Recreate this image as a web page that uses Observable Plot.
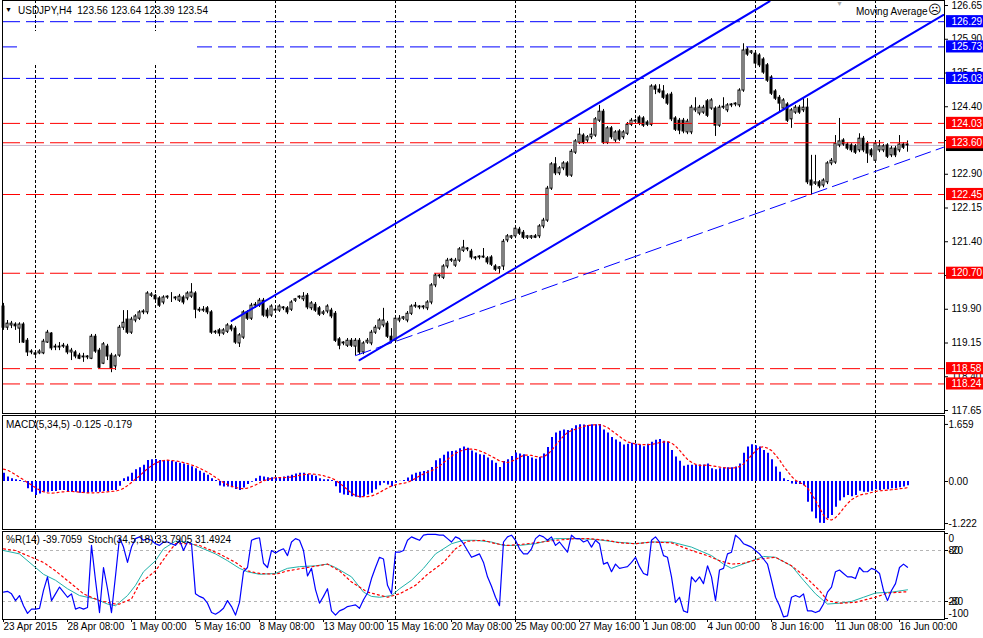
<!DOCTYPE html>
<html><head><meta charset="utf-8">
<script src="https://cdn.jsdelivr.net/npm/d3@7"></script>
<script src="https://cdn.jsdelivr.net/npm/@observablehq/plot@0.6"></script>
<style>
body{margin:0;background:#fff;}
#chart{position:relative;width:983px;height:638px;background:#fff;overflow:hidden;font-family:"Liberation Sans",Arial,sans-serif;}
#chart svg{position:absolute;left:0;}
.t{position:absolute;font-size:10px;line-height:12px;color:#000;white-space:pre;}
</style></head><body><div id="chart"></div>
<script>
// ---------- price data (H4 bars, index 0 = 23 Apr 2015 16:00) ----------
const open = [119.96,119.49,119.54,119.56,119.47,119.56,119.20,118.94,118.92,118.92,
118.92,119.16,119.36,119.05,119.07,119.07,119.07,118.94,118.94,118.87,
118.83,118.83,118.80,119.29,118.98,118.69,119.07,118.87,118.63,118.87,
119.49,119.67,119.38,119.65,119.69,119.83,119.83,120.20,120.20,120.14,
120.05,120.16,120.16,120.14,120.09,120.16,120.14,120.18,120.25,119.87,
119.87,119.92,119.83,119.38,119.43,119.36,119.40,119.52,119.47,119.14,
119.27,119.83,119.69,119.98,119.98,120.09,119.87,119.76,119.87,119.87,
119.92,119.92,119.89,120.09,120.16,120.12,120.20,119.92,120.00,119.92,
119.80,119.85,119.87,119.80,119.23,119.14,119.09,119.20,119.07,119.20,
118.94,119.16,119.14,119.38,119.47,119.54,119.58,119.29,119.20,119.65,
119.69,119.65,119.80,119.96,119.94,119.94,119.92,120.05,120.43,120.63,
120.60,120.85,120.98,120.87,120.98,121.20,121.23,121.18,121.03,121.05,
121.07,121.03,121.05,120.85,120.80,120.85,121.43,121.49,121.52,121.67,
121.60,121.49,121.49,121.52,121.52,121.74,121.87,122.58,123.12,122.92,
123.03,123.14,122.87,123.38,123.60,123.76,123.65,123.72,123.76,124.09,
124.29,123.60,123.92,123.65,123.85,123.72,123.80,124.00,124.07,124.16,
124.14,124.05,124.00,124.85,124.78,124.74,124.65,124.67,124.14,124.09,
124.09,123.83,123.83,124.32,124.25,124.27,124.52,124.36,124.36,123.98,
124.38,124.32,124.43,124.45,124.43,124.76,125.67,125.60,125.58,125.54,
125.45,125.32,125.05,124.74,124.60,124.36,124.45,124.12,124.27,124.38,
124.32,124.38,122.76,122.69,122.72,122.65,122.72,123.14,123.16,123.54,
123.65,123.56,123.54,123.52,123.43,123.69,123.58,123.43,123.20,123.43,
123.43,123.54,123.32,123.47,123.43,123.56,123.56];
const high = [120.03,119.65,119.63,119.60,119.60,119.60,119.25,119.00,118.98,119.00,
119.23,119.43,119.38,119.12,119.16,119.14,119.12,119.03,118.98,118.92,
118.92,118.87,119.34,119.34,119.03,119.16,119.12,118.92,118.89,119.54,
119.87,119.87,119.72,119.78,119.87,119.89,120.29,120.27,120.23,120.18,
120.20,120.20,120.27,120.18,120.23,120.20,120.29,120.47,120.29,119.94,
119.96,119.96,119.87,119.43,119.47,119.47,119.58,119.56,119.52,119.36,
119.87,119.87,120.03,120.05,120.14,120.14,119.92,120.00,119.94,120.00,
119.96,119.96,120.09,120.14,120.20,120.27,120.25,120.07,120.05,119.96,
119.87,120.00,119.92,119.85,119.27,119.18,119.25,119.25,119.25,119.25,
119.18,119.25,119.43,119.54,119.69,119.92,119.63,119.47,119.74,119.76,
119.74,119.85,120.00,120.05,119.98,119.98,120.09,120.47,120.69,120.67,
120.89,121.03,121.03,121.03,121.27,121.43,121.27,121.23,121.07,121.09,
121.25,121.07,121.09,120.89,120.85,121.45,121.56,121.54,121.74,121.72,
121.65,121.54,121.54,121.56,121.78,121.92,122.63,123.16,123.27,123.07,
123.18,123.18,123.45,123.67,123.92,123.80,123.76,123.92,124.16,124.43,
124.34,123.96,123.96,123.87,123.89,123.87,124.05,124.14,124.12,124.20,
124.18,124.09,124.89,124.89,124.89,124.87,124.69,124.72,124.18,124.14,
124.14,124.12,124.43,124.60,124.43,124.43,124.56,124.58,124.40,124.43,
124.60,124.47,124.47,124.49,124.80,125.80,125.72,125.65,125.63,125.58,
125.49,125.36,125.09,124.78,124.65,124.58,124.49,124.36,124.43,124.43,
124.58,124.58,123.32,123.32,122.76,122.80,123.18,123.25,123.76,124.14,
123.69,123.60,123.58,123.56,123.80,123.74,123.63,123.47,123.63,123.65,
123.56,123.58,123.52,123.52,123.76,123.60,123.64];
const low = [119.43,119.43,119.47,119.43,119.14,119.14,118.85,118.89,118.80,118.89,
118.89,119.14,118.98,118.98,118.98,119.03,118.89,118.76,118.80,118.78,
118.72,118.78,118.78,118.92,118.58,118.67,118.76,118.49,118.54,118.83,
119.43,119.34,119.34,119.60,119.65,119.78,119.78,120.16,120.07,119.94,
120.00,120.12,120.05,120.09,120.05,120.00,120.09,120.14,119.69,119.83,
119.83,119.78,119.34,119.34,119.29,119.32,119.36,119.40,119.12,119.05,
119.23,119.65,119.65,119.92,119.94,119.72,119.69,119.72,119.83,119.83,
119.87,119.78,119.85,120.05,120.12,120.07,119.89,119.87,119.83,119.74,
119.76,119.80,119.69,119.16,119.00,119.09,119.05,119.05,118.87,118.89,
118.89,119.12,119.09,119.34,119.43,119.49,119.25,119.14,119.16,119.60,
119.65,119.60,119.76,119.92,119.89,119.89,119.87,120.00,120.38,120.58,
120.56,120.80,120.94,120.83,120.94,121.16,121.18,121.00,120.98,121.00,
121.03,120.89,120.85,120.74,120.69,120.76,121.38,121.45,121.47,121.54,
121.45,121.45,121.45,121.47,121.47,121.69,121.83,122.54,122.87,122.87,
122.98,122.83,122.83,123.34,123.56,123.56,123.60,123.67,123.72,124.05,
123.56,123.56,123.67,123.60,123.63,123.67,123.76,123.96,124.03,123.98,
123.94,123.96,123.96,124.67,124.69,124.56,124.43,124.07,123.85,123.78,
123.80,123.78,123.78,124.27,124.20,124.23,124.16,124.32,123.74,123.94,
124.34,124.27,124.38,124.40,124.38,124.72,125.52,125.56,125.32,125.27,
125.12,124.94,124.65,124.54,124.27,124.32,124.05,123.92,124.23,124.23,
124.27,122.67,122.45,122.65,122.58,122.60,122.67,123.09,123.12,123.49,
123.52,123.43,123.38,123.34,123.38,123.38,123.14,123.27,123.16,123.38,
123.38,123.25,123.27,123.27,123.38,123.45,123.39];
const close = [119.49,119.58,119.58,119.52,119.56,119.16,118.94,118.96,118.89,118.96,
119.18,119.38,119.03,119.07,119.05,119.09,118.94,118.98,118.85,118.80,
118.85,118.85,119.29,118.96,118.60,119.12,118.85,118.58,118.85,119.49,
119.60,119.38,119.67,119.74,119.83,119.85,120.25,120.23,120.12,119.98,
120.16,120.18,120.16,120.16,120.18,120.05,120.25,120.27,119.89,119.89,
119.89,119.83,119.38,119.40,119.36,119.43,119.54,119.45,119.16,119.32,
119.83,119.69,119.98,120.00,120.09,119.76,119.74,119.96,119.89,119.96,
119.94,119.83,120.05,120.12,120.18,120.18,119.94,120.03,119.87,119.78,
119.83,119.96,119.74,119.20,119.09,119.16,119.20,119.09,119.20,118.94,
119.14,119.20,119.38,119.49,119.65,119.65,119.29,119.20,119.69,119.69,
119.72,119.80,119.96,119.98,119.96,119.96,120.05,120.43,120.65,120.65,
120.85,120.98,121.00,120.98,121.23,121.27,121.25,121.05,121.05,121.07,
121.05,120.94,120.89,120.78,120.83,121.40,121.52,121.52,121.69,121.58,
121.49,121.52,121.52,121.49,121.74,121.87,122.58,123.12,122.92,123.03,
123.14,122.87,123.40,123.63,123.78,123.60,123.72,123.78,124.12,124.29,
123.60,123.92,123.72,123.83,123.67,123.83,124.00,124.09,124.09,124.03,
123.98,124.00,124.85,124.78,124.72,124.60,124.47,124.12,123.89,123.87,
123.85,124.07,124.38,124.36,124.38,124.38,124.20,124.54,123.98,124.38,
124.40,124.43,124.45,124.47,124.76,125.65,125.56,125.63,125.36,125.32,
125.16,124.98,124.69,124.58,124.47,124.54,124.09,124.32,124.38,124.27,
124.38,122.72,122.65,122.72,122.63,122.76,123.14,123.20,123.58,123.63,
123.56,123.47,123.43,123.38,123.69,123.43,123.36,123.32,123.58,123.52,
123.52,123.29,123.47,123.32,123.56,123.49,123.54];

// ---------- MACD(5,34,5) ----------
const macd = [0.24,0.13,0.08,0.05,0.03,-0.02,-0.21,-0.31,-0.41,-0.36,
-0.31,-0.31,-0.29,-0.29,-0.26,-0.26,-0.31,-0.31,-0.31,-0.34,
-0.34,-0.34,-0.31,-0.31,-0.31,-0.29,-0.29,-0.26,-0.26,-0.14,
0.08,0.13,0.24,0.34,0.40,0.47,0.61,0.63,0.64,0.61,
0.61,0.61,0.59,0.56,0.53,0.51,0.47,0.43,0.37,0.30,
0.24,0.18,0.08,0.03,-0.13,-0.16,-0.16,-0.18,-0.23,-0.26,
-0.19,-0.09,-0.02,0.08,0.15,0.13,0.11,0.11,0.11,0.11,
0.13,0.15,0.18,0.22,0.24,0.24,0.20,0.18,0.15,0.08,
0.05,0.05,0.03,-0.15,-0.34,-0.39,-0.41,-0.44,-0.46,-0.48,
-0.44,-0.39,-0.34,-0.24,-0.12,-0.05,-0.10,-0.15,-0.05,0.01,
0.03,0.10,0.19,0.24,0.27,0.29,0.31,0.41,0.60,0.66,
0.76,0.86,0.87,0.89,0.95,1.00,0.97,0.89,0.83,0.78,
0.76,0.68,0.60,0.53,0.41,0.58,0.63,0.73,0.83,0.80,
0.78,0.73,0.68,0.65,0.70,0.80,0.99,1.28,1.41,1.46,
1.50,1.48,1.53,1.62,1.65,1.64,1.63,1.65,1.65,1.659,
1.50,1.41,1.28,1.21,1.14,1.06,1.08,1.11,1.08,1.06,
1.01,1.08,1.14,1.20,1.22,1.17,1.14,0.90,0.71,0.59,
0.44,0.47,0.47,0.47,0.48,0.48,0.51,0.37,0.34,0.37,
0.40,0.40,0.40,0.42,0.51,0.82,1.00,1.07,1.04,1.00,
0.90,0.82,0.63,0.42,0.27,0.08,0.03,-0.07,-0.09,-0.09,
-0.12,-0.60,-0.89,-1.08,-1.21,-1.222,-1.08,-0.99,-0.75,-0.57,
-0.47,-0.41,-0.44,-0.41,-0.28,-0.31,-0.31,-0.28,-0.24,-0.26,
-0.24,-0.24,-0.21,-0.21,-0.18,-0.16,-0.125];
const macdSignal = [0.36,0.33,0.27,0.20,0.12,0.05,-0.03,-0.10,-0.18,-0.25,
-0.30,-0.33,-0.34,-0.33,-0.31,-0.30,-0.29,-0.29,-0.30,-0.31,
-0.32,-0.33,-0.33,-0.33,-0.32,-0.31,-0.30,-0.29,-0.28,-0.25,
-0.20,-0.12,-0.03,0.07,0.16,0.27,0.37,0.46,0.53,0.58,
0.61,0.62,0.61,0.60,0.58,0.55,0.52,0.48,0.44,0.39,
0.33,0.27,0.20,0.12,0.04,-0.03,-0.09,-0.14,-0.17,-0.20,
-0.21,-0.19,-0.15,-0.10,-0.04,0.02,0.06,0.09,0.11,0.11,
0.11,0.12,0.13,0.15,0.18,0.20,0.22,0.22,0.21,0.19,
0.17,0.13,0.10,0.04,-0.05,-0.14,-0.24,-0.34,-0.41,-0.44,
-0.44,-0.44,-0.42,-0.38,-0.32,-0.25,-0.19,-0.13,-0.10,-0.07,
-0.05,-0.03,0.03,0.09,0.16,0.22,0.27,0.31,0.38,0.45,
0.55,0.64,0.74,0.82,0.87,0.92,0.94,0.94,0.93,0.89,
0.85,0.79,0.73,0.67,0.60,0.57,0.55,0.59,0.64,0.70,
0.76,0.77,0.76,0.73,0.71,0.72,0.79,0.90,1.05,1.18,
1.32,1.42,1.48,1.52,1.56,1.60,1.63,1.64,1.65,1.65,
1.62,1.57,1.48,1.40,1.31,1.22,1.15,1.12,1.09,1.08,
1.07,1.07,1.08,1.10,1.13,1.15,1.16,1.12,1.03,0.91,
0.77,0.64,0.56,0.50,0.47,0.47,0.48,0.46,0.44,0.42,
0.40,0.39,0.39,0.40,0.43,0.51,0.63,0.76,0.89,0.99,
1.01,0.97,0.90,0.77,0.63,0.45,0.30,0.15,0.04,-0.03,
-0.08,-0.19,-0.36,-0.55,-0.76,-0.98,-1.10,-1.12,-1.05,-0.93,
-0.78,-0.64,-0.53,-0.46,-0.40,-0.37,-0.35,-0.32,-0.29,-0.27,
-0.26,-0.25,-0.24,-0.23,-0.21,-0.20,-0.179];

// ---------- Williams %R(14) ----------
const wpr = [-69,-68,-71,-79,-73,-85,-94,-89,-89,-88,
-67,-51,-79,-71,-63,-69,-75,-71,-89,-87,
-89,-87,-14,-55,-93,-40,-65,-93,-50,-5,
-16,-34,-16,-6,-4,-8,-6,-8,-12,-14,
-10,-10,-12,-14,-8,-20,-10,-12,-71,-74,
-76,-82,-93,-95,-92,-88,-79,-86,-96,-81,
-45,-40,-8,-6,-5,-35,-40,-20,-23,-20,
-18,-26,-10,-6,-8,-20,-50,-41,-66,-82,
-74,-65,-91,-96,-91,-89,-86,-85,-84,-88,
-78,-70,-53,-40,-28,-30,-61,-71,-22,-22,
-20,-8,-4,-6,-8,-2,-1,-1,-1,-2,
-2,-6,-10,-4,-6,-12,-20,-28,-26,-24,
-34,-51,-62,-75,-85,-10,-4,-2,-8,-18,
-24,-24,-18,-6,-2,-4,-8,-4,-14,-10,
-16,-22,-2,-6,-6,-10,-8,-16,-8,-12,
-36,-34,-45,-36,-41,-40,-39,-34,-28,-39,
-47,-49,-8,-4,-10,-26,-28,-51,-81,-75,
-91,-93,-51,-57,-51,-59,-38,-51,-79,-43,
-41,-24,-22,-2,-6,-12,-14,-16,-20,-24,
-30,-36,-55,-75,-85,-98,-97,-75,-73,-75,
-71,-91,-91,-93,-91,-83,-69,-63,-45,-43,
-47,-51,-51,-53,-40,-45,-45,-41,-43,-47,
-67,-79,-67,-59,-40,-36,-39.7059];

// ---------- Stochastic(34,5,18), read at selected bars ----------
const stochMainBar = [0,4,8,10,13,16,19,23,26,28,29,31,33,35,38,40,42,43,46,49,53,56,59,61,64,68,71,74,78,81,83,87,90,92,94,97,99,102,105,108,112,115,118,122,125,129,133,138,143,148,153,158,162,167,172,177,180,182,186,190,193,197,200,203,206,209,212,215,218,222,226];
const stochMainVal = [80,76,60,52,45,35,27,23,17,15,19,27,39,55,68,82,88,91,90,84,76,68,59,55,52,53,59,61,62,64,60,49,31,26,25,27,35,45,59,76,88,92,92,90,86,86,88,94,94,93,90,88,90,90,84,74,64,59,66,73,72,62,45,29,17,18,20,25,30,31,33.7905];
const stochSigBar = [0,3,7,10,13,18,20,24,28,29,32,34,38,41,43,46,49,54,58,61,64,68,71,76,81,84,87,91,96,99,103,106,110,113,116,120,123,126,129,133,138,143,146,151,154,158,162,167,172,176,179,182,185,189,193,197,200,204,206,209,213,218,221,226];
const stochSigVal = [82,80,72,66,56,37,29,21,17,17,23,41,56,76,88,88,86,76,66,56,53,52,56,60,64,56,43,31,25,29,39,52,66,82,91,92,88,86,87,89,92,94,94,92,89,88,90,89,80,74,68,64,65,70,72,62,51,33,21,18,19,25,30,31.4924];

// ---------- chart objects ----------
const blueLevels = [126.29, 125.73, 125.03];
const redLevels = [124.03, 123.60, 122.45, 120.70, 118.58, 118.24];
const upperChannel = [[57, 119.64], [191.5, 126.74]];
const lowerChannel = [[89, 118.77], [235, 126.44]];
const supportLine = [[88, 118.87], [235, 123.50]];
const priceTicks = [126.65,125.90,125.15,124.40,123.65,122.90,122.15,121.40,120.65,119.90,119.15,118.40,117.65];
const wprLevels = [-20, -80];
const stochLevels = [80, 20];
const gridBars = [8, 38, 68, 98, 128, 158, 188, 218];
const dateBars = [0,16,32,48,64,80,96,112,128,144,160,176,192,208,224];
const dateLabels = ["23 Apr 2015","28 Apr 08:00","1 May 00:00","5 May 16:00","8 May 08:00","13 May 00:00","15 May 16:00","20 May 08:00","25 May 00:00","27 May 16:00","1 Jun 08:00","4 Jun 00:00","8 Jun 16:00","11 Jun 08:00","16 Jun 00:00"];

// ---------- build ----------
const root = document.getElementById("chart");
const FONT = "'Liberation Sans', Arial, sans-serif";
const bars = open.map((o, i) => ({i, o, h: high[i], l: low[i], c: close[i]}));
const bulls = bars.filter(d => d.c >= d.o);
const bears = bars.filter(d => d.c < d.o);
const last = bars[bars.length - 1];
const common = {
  width: 983,
  marginLeft: 2,
  marginRight: 39,
  x: {domain: [0, 235], range: [3, 943], axis: null},
  style: {fontFamily: FONT, fontSize: "10px", color: "#000", background: "transparent", overflow: "visible"}
};
const BOX = 0.135;
const allLevels = [...blueLevels, ...redLevels, last.c];
// scale labels hidden completely behind a level label box are not drawn
const visibleTicks = priceTicks.filter(t => !allLevels.some(v => Math.abs(v - t) < 0.08));
const gridMark = () => Plot.ruleX(gridBars, {x: d => d, stroke: "#000", strokeDasharray: "3,2"});
const boxRect = (vals, color) => Plot.rect(vals, {x1: () => 235.75, x2: () => 246, y1: d => d - BOX, y2: d => d + BOX, fill: color});
const boxText = (vals) => Plot.text(vals, {y: d => d, text: d => d.toFixed(2), frameAnchor: "right", dx: 7, textAnchor: "start", fill: "#fff"});

const mainPlot = Plot.plot({
  ...common,
  height: 414, marginTop: 0, marginBottom: 1,
  y: {domain: [117.65, 126.65], range: [410, 5], axis: null},
  marks: [
    gridMark(),
    Plot.ruleY([last.c], {stroke: "#c9b7cf"}),
    Plot.ruleX(bars, {x: "i", y1: "l", y2: "h", stroke: "#000"}),
    Plot.rect(bulls, {x1: d => d.i - 0.25, x2: d => d.i + 0.25, y1: "o", y2: "c", fill: "#fff", stroke: "#000"}),
    Plot.rect(bears, {x1: d => d.i - 0.25, x2: d => d.i + 0.25, y1: "o", y2: "c", fill: "#000", stroke: "#000"}),
    Plot.ruleY(blueLevels, {y: d => d, stroke: "#0000ff", strokeDasharray: "18,6"}),
    Plot.ruleY(redLevels, {y: d => d, stroke: "#ff0000", strokeDasharray: "18,6"}),
    Plot.line(supportLine, {x: d => d[0], y: d => d[1], stroke: "#0000ff", strokeWidth: 1, strokeDasharray: "16,6"}),
    Plot.line(upperChannel, {x: d => d[0], y: d => d[1], stroke: "#0000ff", strokeWidth: 2}),
    Plot.line(lowerChannel, {x: d => d[0], y: d => d[1], stroke: "#0000ff", strokeWidth: 2}),
    Plot.frame({stroke: "#000"}),
    Plot.axisY(priceTicks, {anchor: "right", tickSize: 3, tickFormat: () => "", label: null}),
    Plot.text(visibleTicks, {y: d => d, text: d => d.toFixed(2), frameAnchor: "right", dx: 7, textAnchor: "start"}),
    boxRect([last.c], "#000"),
    boxRect(blueLevels, "#0000ff"),
    boxText(blueLevels),
    boxRect(redLevels, "#ff0000"),
    boxText(redLevels)
  ]
});
mainPlot.style.top = "0px";
root.appendChild(mainPlot);

const macdRows = macd.map((v, i) => ({i, v, s: macdSignal[i]}));
const mMin = d3.min(macd), mMax = d3.max(macd);
const macdPlot = Plot.plot({
  ...common,
  height: 116, marginTop: 1, marginBottom: 1,
  y: {domain: [mMin, mMax], range: [109.04, 9.93], axis: "right", ticks: [mMin, 0, mMax], tickSize: 3, tickPadding: 1, tickFormat: d => d === 0 ? "0.00" : d.toFixed(3), label: null},
  marks: [
    gridMark(),
    Plot.ruleX(macdRows, {x: "i", y1: () => 0, y2: "v", stroke: "#0000ff", strokeWidth: 2, dx: 0.5}),
    Plot.line(macdRows, {x: "i", y: "s", stroke: "#ff0000", strokeWidth: 1.2, strokeDasharray: "2,3"}),
    Plot.frame({stroke: "#000"})
  ]
});
macdPlot.style.top = "414px";
root.appendChild(macdPlot);

const wprRows = wpr.map((r, i) => ({i, r}));
const smRows = stochMainBar.map((b, k) => ({i: b, s: stochMainVal[k]}));
const ssRows = stochSigBar.map((b, k) => ({i: b, s: stochSigVal[k]}));
const stochPlot = Plot.plot({
  ...common,
  height: 108, marginTop: 1, marginBottom: 19,
  x: {domain: [0, 235], range: [3, 943], axis: "bottom", ticks: dateBars, tickSize: 3, tickFormat: () => "", label: null},
  y: {domain: [-100, 0], range: [88, 3], axis: "right", ticks: [0, -20, -80, -100], tickSize: 3, tickFormat: () => "", label: null},
  marks: [
    gridMark(),
    Plot.ruleY(wprLevels, {y: d => d, stroke: "#c3b3cb", strokeDasharray: "3,3"}),
    Plot.ruleY(stochLevels, {y: d => d - 100, stroke: "#b5b5b5", strokeDasharray: "3,3"}),
    Plot.line(smRows, {x: "i", y: d => d.s - 100, stroke: "#20b2aa", strokeWidth: 1}),
    Plot.line(ssRows, {x: "i", y: d => d.s - 100, stroke: "#ff0000", strokeWidth: 1.2, strokeDasharray: "2,3"}),
    Plot.line(wprRows, {x: "i", y: "r", stroke: "#0000ff", strokeWidth: 1.2}),
    Plot.frame({stroke: "#000"}),
    Plot.text([0], {y: d => d, text: d => String(d), frameAnchor: "right", dx: 4, dy: 5, textAnchor: "start"}),
    Plot.text(wprLevels, {y: d => d, text: d => String(d), frameAnchor: "right", dx: 4, textAnchor: "start"}),
    Plot.text(stochLevels, {y: d => d - 100, text: d => String(d), frameAnchor: "right", dx: 4, textAnchor: "start"}),
    Plot.text([-100], {y: d => d, text: d => String(d), frameAnchor: "right", dx: 4, dy: -5, textAnchor: "start"}),
    Plot.text(dateBars, {x: d => d, text: (d, k) => dateLabels[k], frameAnchor: "bottom", dy: 10, dx: 0, textAnchor: "start"})
  ]
});
stochPlot.style.top = "530px";
root.appendChild(stochPlot);

// ---------- text overlays ----------
function addText(txt, left, top, extra) {
  const el = document.createElement("div");
  el.className = "t";
  el.textContent = txt;
  el.style.left = left + "px";
  el.style.top = top + "px";
  if (extra) Object.assign(el.style, extra);
  root.appendChild(el);
  return el;
}
// hidden white label object covering part of the chart
const cover = document.createElement("div");
Object.assign(cover.style, {position: "absolute", left: "17px", top: "31px", width: "180px", height: "32px", background: "#fff"});
root.appendChild(cover);

addText("\u25BC", 5, 4, {fontSize: "7px"});
addText(`USDJPY,H4  ${last.o.toFixed(2)} ${last.h.toFixed(2)} ${last.l.toFixed(2)} ${last.c.toFixed(2)}`, 18, 5);
addText("Moving Average", 856, 6);
addText("\u2639", 928, 4, {fontSize: "13px"});
addText("\u25BC", 836, 0, {fontSize: "7px", lineHeight: "7px", color: "#aaa"});
addText(`MACD(5,34,5) ${macd[macd.length-1].toFixed(3)} ${macdSignal[macdSignal.length-1].toFixed(3)}`, 6, 419);
addText(`%R(14) ${wpr[wpr.length-1].toFixed(4)}  Stoch(34,5,18) ${stochMainVal[stochMainVal.length-1].toFixed(4)} ${stochSigVal[stochSigVal.length-1].toFixed(4)}`, 6, 534);
</script></body></html>
